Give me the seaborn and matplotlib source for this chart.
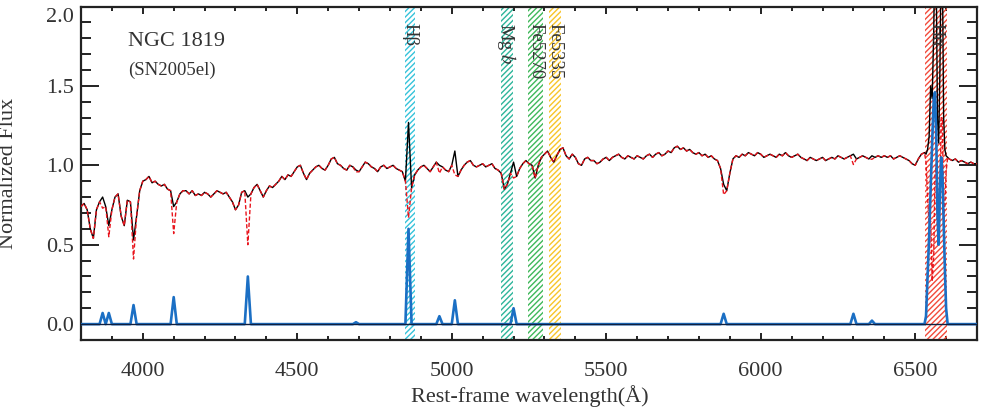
import numpy as np
import matplotlib
matplotlib.use("Agg")
import matplotlib.pyplot as plt
import matplotlib.transforms as mtransforms
import seaborn as sns

# ---------------- data ----------------
# observed spectrum, 10 A sampling 3800-6520
wave_blue_part = np.arange(3800, 6521, 10)
flux_blue_part = [
    0.74, 0.76, 0.72, 0.60, 0.54, 0.72, 0.77, 0.80, 0.74, 0.62,   # 3800-3890
    0.72, 0.80, 0.82, 0.68, 0.62, 0.78, 0.77, 0.53, 0.68, 0.84,   # 3900-3990
    0.90, 0.91, 0.93, 0.89, 0.90, 0.88, 0.87, 0.88, 0.85, 0.84,   # 4000-4090
    0.74, 0.77, 0.82, 0.84, 0.84, 0.82, 0.84, 0.81, 0.82, 0.81,   # 4100-4190
    0.83, 0.82, 0.80, 0.82, 0.84, 0.83, 0.82, 0.83, 0.80, 0.77,   # 4200-4290
    0.72, 0.75, 0.83, 0.84, 0.80, 0.82, 0.86, 0.88, 0.84, 0.80,   # 4300-4390
    0.84, 0.87, 0.86, 0.88, 0.90, 0.93, 0.91, 0.94, 0.93, 0.96,   # 4400-4490
    0.99, 1.00, 0.95, 0.91, 0.95, 0.97, 0.99, 1.00, 0.98, 0.97,   # 4500-4590
    1.00, 1.04, 1.05, 1.01, 1.00, 0.98, 0.97, 1.00, 0.99, 0.97,   # 4600-4690
    0.96, 0.99, 1.02, 1.01, 0.99, 0.98, 0.96, 0.99, 1.00, 0.98,   # 4700-4790
    0.99, 1.00, 0.98, 0.97, 0.96, 0.90, 1.27, 0.86, 0.94, 0.97,   # 4800-4890
    0.99, 1.00, 0.98, 0.96, 0.99, 1.02, 1.00, 0.99, 0.97, 0.96,   # 4900-4990
    1.00, 1.09, 0.93, 0.97, 1.00, 1.02, 1.03, 1.00, 0.99, 1.00,   # 5000-5090
    1.01, 0.99, 1.00, 1.01, 0.98, 0.97, 0.95, 0.85, 0.88, 0.95,   # 5100-5190
    1.02, 0.93, 0.98, 1.01, 1.03, 1.01, 1.00, 0.92, 1.00, 1.05,   # 5200-5290
    1.07, 1.09, 1.05, 1.02, 1.06, 1.10, 1.11, 1.06, 1.04, 1.07,   # 5300-5390
    1.05, 1.01, 1.00, 1.04, 1.05, 1.03, 1.03, 1.01, 1.02, 1.04,   # 5400-5490
    1.05, 1.03, 1.05, 1.06, 1.07, 1.05, 1.04, 1.06, 1.05, 1.04,   # 5500-5590
    1.06, 1.05, 1.04, 1.06, 1.07, 1.05, 1.07, 1.08, 1.06, 1.07,   # 5600-5690
    1.09, 1.08, 1.11, 1.12, 1.10, 1.11, 1.09, 1.10, 1.08, 1.07,   # 5700-5790
    1.08, 1.06, 1.07, 1.05, 1.06, 1.04, 1.03, 0.98, 0.88, 0.84,   # 5800-5890
    0.95, 1.04, 1.06, 1.05, 1.07, 1.06, 1.08, 1.07, 1.06, 1.08,   # 5900-5990
    1.07, 1.05, 1.06, 1.07, 1.06, 1.05, 1.07, 1.06, 1.08, 1.06,   # 6000-6090
    1.05, 1.06, 1.07, 1.05, 1.04, 1.03, 1.05, 1.04, 1.03, 1.04,   # 6100-6190
    1.05, 1.03, 1.04, 1.05, 1.04, 1.06, 1.05, 1.04, 1.05, 1.06,   # 6200-6290
    1.07, 1.04, 1.05, 1.06, 1.05, 1.04, 1.06, 1.05, 1.06, 1.05,   # 6300-6390
    1.06, 1.05, 1.06, 1.04, 1.05, 1.06, 1.05, 1.04, 1.03, 1.01,   # 6400-6490
    1.00, 1.04, 1.07,                                             # 6500-6520
]
# H-alpha / [NII] complex, finer sampling
wave_ha_part = [6530, 6535, 6540, 6545, 6550, 6555, 6560, 6564, 6568,
                6572, 6576, 6580, 6584, 6588, 6592, 6596, 6600, 6605]
flux_ha_part = [1.08, 1.07, 1.10, 1.18, 1.50, 1.42, 1.85, 2.40, 2.20,
                1.30, 1.14, 1.60, 2.35, 2.25, 1.30, 1.10, 1.06, 1.05]
emis_ha_part = [0.00, 0.05, 0.30, 0.55, 0.85, 1.15, 1.42, 1.46, 1.20,
                0.70, 0.50, 0.85, 1.05, 0.95, 0.65, 0.35, 0.10, 0.00]
# red end
wave_red_part = np.arange(6610, 6701, 10)
flux_red_part = [1.04, 1.03, 1.04, 1.02, 1.03, 1.02, 1.01, 1.02, 1.01, 1.01]

# emission-line peaks on the 10 A grid
line_wave = [3870, 3890, 3970, 4100, 4340, 4690, 4860, 4960, 5010, 5200,
             5880, 6300, 6360]
line_flux = [0.07, 0.07, 0.12, 0.17, 0.30, 0.012, 0.60, 0.05, 0.15, 0.10,
             0.065, 0.065, 0.022]

# index bands (Angstrom)
band_names = ["H\u03b2", "Mg $b$", "Fe5270", "Fe5335", "H\u03b1"]
band_lo = [4850, 5158, 5248, 5315, 6533]
band_hi = [4881, 5199, 5294, 5354, 6603]
band_colors = ["#35c3da", "#2db59b", "#3fb85a", "#f8c52a", "#f24a3a"]

x_ticks = [4000, 4500, 5000, 5500, 6000, 6500]
y_ticks = [0.0, 0.5, 1.0, 1.5, 2.0]

# ---------------- assemble ----------------
wave = np.concatenate([wave_blue_part, wave_ha_part, wave_red_part]).astype(float)
obs = np.concatenate([flux_blue_part, flux_ha_part, flux_red_part])
emis = np.zeros_like(obs)
for lw_, lf_ in zip(line_wave, line_flux):
    emis[wave == lw_] = lf_
n1 = len(wave_blue_part)
emis[n1:n1 + len(wave_ha_part)] = emis_ha_part
stellar = obs - emis

# ---------------- plot ----------------
sns.set_theme(style="ticks")
plt.rcParams["font.family"] = ["Liberation Serif", "DejaVu Serif"]
plt.rcParams["mathtext.fontset"] = "stix"
plt.rcParams["hatch.linewidth"] = 1.0
txt = "#333333"

fig = plt.figure(figsize=(9.96, 4.12), dpi=100)
ax = fig.add_axes([81 / 996, 1 - 340 / 412, (977 - 81) / 996, (340 - 6.5) / 412])

for lo, hi, c in zip(band_lo, band_hi, band_colors):
    ax.axvspan(lo, hi, facecolor="none", edgecolor=c, hatch="//////",
               linewidth=0, zorder=1)

sns.lineplot(x=wave, y=obs, ax=ax, color="black", lw=1.0,
             estimator=None, sort=False, zorder=2)
sns.lineplot(x=wave, y=stellar, ax=ax, color="#e8141c", lw=1.0,
             estimator=None, sort=False, zorder=3)
ax.lines[-1].set_dashes([3, 1.6])
sns.lineplot(x=wave, y=emis, ax=ax, color="#1b6fc4", lw=1.9,
             estimator=None, sort=False, zorder=4)
ax.axhline(0.0, color="#102040", lw=1.0, zorder=5)

ax.set_xlim(3800, 6700)
ax.set_ylim(-0.1, 2.0)
ax.set_xticks(x_ticks)
ax.set_xticks(np.arange(3800, 6701, 100), minor=True)
ax.set_yticks(y_ticks)
ax.set_yticks(np.arange(-0.1, 2.001, 0.1), minor=True)
ax.set_yticklabels([f"{v:.1f}" for v in y_ticks])

for s in ax.spines.values():
    s.set_linewidth(1.6)
    s.set_color("#222222")
    s.set_visible(True)

ax.tick_params(axis="both", which="both", direction="in", top=True, right=True,
               colors="#222222", labelcolor=txt, labelsize=16, width=1.4)
ax.tick_params(axis="y", which="major", length=13, pad=5)
ax.tick_params(axis="y", which="minor", length=7)
ax.tick_params(axis="x", which="major", length=5, pad=16)
ax.tick_params(axis="x", which="minor", length=3)

ax.set_xlabel("Rest-frame wavelength(\u00c5)", fontsize=16, color=txt)
ax.set_ylabel("Normalized Flux", fontsize=16, color=txt)
ax.xaxis.set_label_coords(0.501, -0.135)
ax.yaxis.set_label_coords(-0.07, 0.5)

# the top y label sits slightly below the frame edge in the reference
fig.canvas.draw()
top_lab = ax.get_yticklabels()[-1]
top_lab.set_transform(top_lab.get_transform()
                      + mtransforms.ScaledTranslation(0, -8 / 100, fig.dpi_scale_trans))

ax.text(0.0525, 0.895, "NGC 1819", transform=ax.transAxes, fontsize=16,
        color=txt, va="center", ha="left")
ax.text(0.0525, 0.81, "(SN2005el)", transform=ax.transAxes, fontsize=13.5,
        color=txt, va="center", ha="left")

trans = mtransforms.blended_transform_factory(ax.transData, ax.transAxes)
for name, lo, hi in zip(band_names, band_lo, band_hi):
    ax.text((lo + hi) / 2, 0.952, name, transform=trans, rotation=270,
            ha="center", va="top", fontsize=13.5, color=txt, zorder=6)

fig.savefig("out.png", dpi=100)
